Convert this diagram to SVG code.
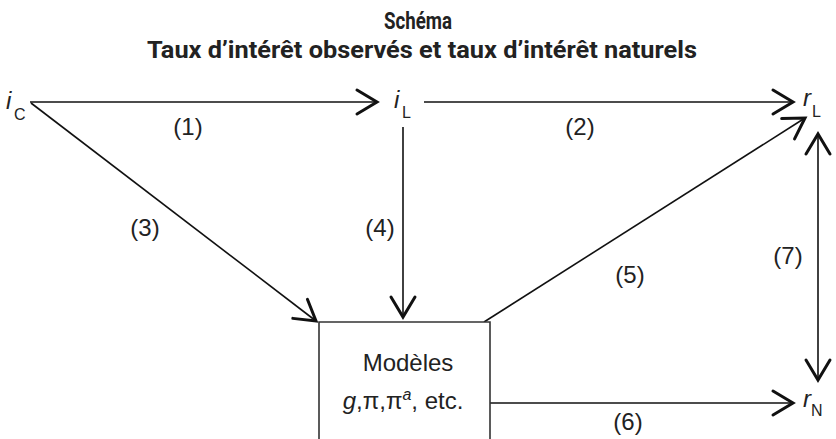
<svg xmlns="http://www.w3.org/2000/svg" width="836" height="439" viewBox="0 0 836 439">
<style>
.title{font-family:Roboto,"Liberation Sans",sans-serif;font-weight:700;fill:#222;text-anchor:middle}
.lbl{font-family:"Liberation Sans",Arial,sans-serif;font-size:24px;fill:#222;text-anchor:middle}
.var{font-family:"Liberation Sans",Arial,sans-serif;font-size:24px;font-style:italic;fill:#222}
.sub{font-family:"Liberation Sans",Arial,sans-serif;font-size:16px;fill:#222}
.edge{stroke:#111;stroke-width:1.6;fill:none}
.box{stroke:#333;stroke-width:1.6;fill:#fff}
</style>
<defs>
<marker id="ah" markerUnits="userSpaceOnUse" markerWidth="40" markerHeight="40" refX="0" refY="0" viewBox="-25 -20 30 40" orient="auto-start-reverse" overflow="visible">
<path d="M-20,-12 L0,0 L-20,12" fill="none" stroke="#111" stroke-width="3" stroke-linejoin="miter" stroke-linecap="round"/>
</marker>
</defs>
<g id="title">
<text class="title" x="418" y="29" font-size="23" textLength="68" lengthAdjust="spacingAndGlyphs">Schéma</text>
<text class="title" x="422" y="58" font-size="23" textLength="550" lengthAdjust="spacingAndGlyphs">Taux d’intérêt observés et taux d’intérêt naturels</text>
</g>
<g id="connectors">
<line class="edge" x1="30" y1="102" x2="377" y2="102" marker-end="url(#ah)"/>
<line class="edge" x1="424" y1="102" x2="793" y2="102" marker-end="url(#ah)"/>
<line class="edge" x1="31" y1="103" x2="316" y2="321" marker-end="url(#ah)"/>
<line class="edge" x1="403" y1="127" x2="403" y2="317" marker-end="url(#ah)"/>
<line class="edge" x1="484" y1="322" x2="805" y2="118" marker-end="url(#ah)"/>
<line class="edge" x1="490" y1="403" x2="793" y2="403" marker-end="url(#ah)"/>
<line class="edge" x1="818" y1="134" x2="818" y2="380" marker-start="url(#ah)" marker-end="url(#ah)"/>
<text class="lbl" x="188" y="135">(1)</text>
<text class="lbl" x="580" y="135">(2)</text>
<text class="lbl" x="145" y="236">(3)</text>
<text class="lbl" x="380" y="236">(4)</text>
<text class="lbl" x="630" y="283">(5)</text>
<text class="lbl" x="628" y="430">(6)</text>
<text class="lbl" x="788" y="264">(7)</text>
</g>
<g id="iC">
<text class="var" x="6" y="109">i</text>
<text class="sub" x="14" y="120">C</text>
</g>
<g id="iL">
<text class="var" x="394" y="108">i</text>
<text class="sub" x="402" y="118">L</text>
</g>
<g id="rL">
<text class="var" x="803" y="106">r</text>
<text class="sub" x="812" y="117">L</text>
</g>
<g id="rN">
<text class="var" x="803" y="407">r</text>
<text class="sub" x="811" y="416">N</text>
</g>
<g id="models">
<path class="box" d="M319,445 L319,322 L490,322 L490,445"/>
<text class="lbl" x="408" y="371">Modèles</text>
<text class="lbl" x="403" y="409"><tspan font-style="italic">g</tspan>,π,π<tspan font-style="italic" font-size="16" dy="-9">a</tspan><tspan dy="9">, etc.</tspan></text>
</g>
</svg>
